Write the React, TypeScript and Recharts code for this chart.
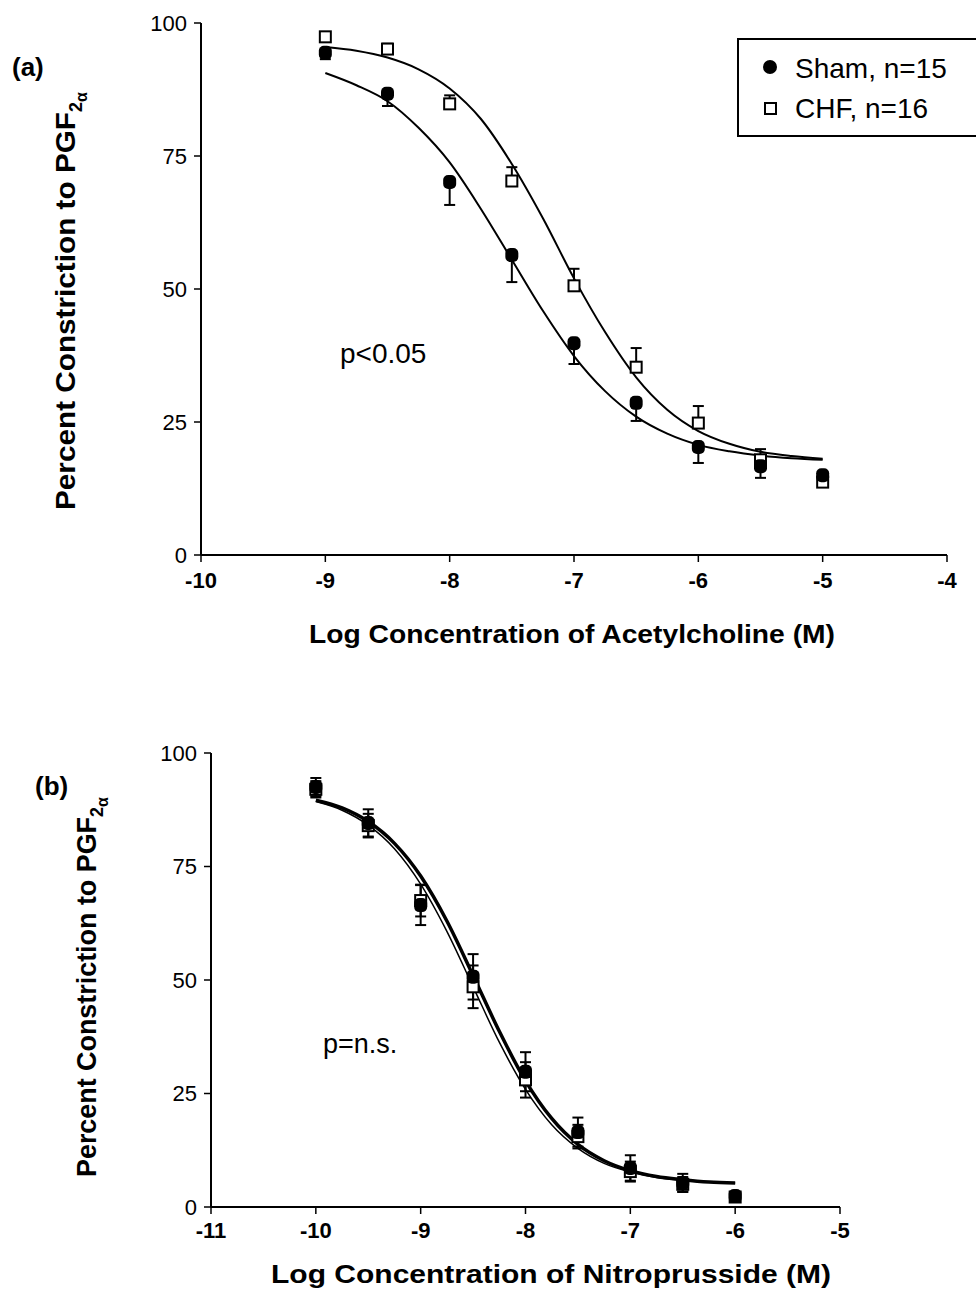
import { ComposedChart, Line, Scatter, XAxis, YAxis, ErrorBar, Legend } from 'recharts'

const FONT = '"Liberation Sans", Arial, Helvetica, sans-serif'

// (a) acetylcholine, mean +/- SEM (Sham bars drawn down, CHF bars drawn up)
const achLog = [-9, -8.5, -8, -7.5, -7, -6.5, -6, -5.5, -5]
const shamAch = [94.4, 86.7, 70.1, 56.4, 39.8, 28.6, 20.3, 16.7, 15.0]
const shamAchSem = [1.2, 2.3, 4.3, 5.1, 3.9, 3.4, 3.0, 2.2, 1.0]
const chfAch = [97.4, 95.1, 84.8, 70.3, 50.6, 35.3, 24.8, 17.9, 13.7]
const chfAchSem = [0.8, 1.0, 1.6, 2.6, 3.2, 3.6, 3.2, 2.0, 1.0]

// fitted curves
const achFitLog = [-9, -8.75, -8.5, -8.25, -8, -7.75, -7.5, -7.25, -7, -6.75, -6.5, -6.25, -6, -5.75, -5.5, -5.25, -5]
const shamAchFit = [90.6, 88.3, 85.3, 80.3, 73.8, 65.1, 55.5, 45.9, 37.4, 30.8, 26.0, 22.8, 20.7, 19.5, 18.7, 18.2, 17.9]
const chfAchFit = [95.5, 94.8, 93.5, 91.3, 87.7, 82.0, 73.5, 63.3, 52.0, 41.9, 33.4, 27.3, 23.3, 20.9, 19.4, 18.6, 18.1]

// (b) nitroprusside
const npLog = [-10, -9.5, -9, -8.5, -8, -7.5, -7, -6.5, -6]
const shamNp = [92.5, 84.6, 66.5, 50.7, 29.8, 16.5, 8.6, 5.3, 2.4]
const shamNpSem = [2.0, 3.0, 4.4, 5.0, 4.3, 3.2, 2.8, 2.0, 0.8]
const chfNp = [92.0, 84.0, 67.5, 48.5, 28.0, 15.5, 7.8, 5.0, 2.2]
const chfNpSem = [1.8, 2.6, 3.5, 4.7, 3.9, 2.6, 2.2, 1.6, 0.8]

const npFitLog = [-10, -9.75, -9.5, -9.25, -9, -8.75, -8.5, -8.25, -8, -7.75, -7.5, -7.25, -7, -6.75, -6.5, -6.25, -6]
const shamNpFit = [89.6, 87.9, 84.9, 80.1, 72.9, 63.0, 51.0, 38.7, 27.8, 19.5, 13.8, 10.2, 8.0, 6.7, 6.0, 5.5, 5.3]
const chfNpFit = [89.3, 87.4, 84.1, 78.9, 71.1, 60.7, 48.5, 36.3, 25.9, 18.1, 12.9, 9.6, 7.7, 6.5, 5.9, 5.5, 5.3]

const achTicks = [-10, -9, -8, -7, -6, -5, -4]
const npTicks = [-11, -10, -9, -8, -7, -6, -5]
const pctTicks = [0, 25, 50, 75, 100]

const pts = (xs: number[], ys: number[], errs?: [number, number][]) =>
  xs.map((x, i) => ({ x, y: ys[i], err: errs ? errs[i] : 0 }))

const down = (s: number[]) => s.map((v) => [v, 0] as [number, number])
const up = (s: number[]) => s.map((v) => [0, v] as [number, number])
const both = (s: number[]) => s.map((v) => [v, v] as [number, number])

const ShamMark = (p: any) => (
  <rect x={p.cx - 6.5} y={p.cy - 7} width={13} height={14} rx={5} fill="#000" />
)
const ChfMark = (p: any) => (
  <rect x={p.cx - 5.5} y={p.cy - 5.5} width={11} height={11} fill="#fff" stroke="#000" strokeWidth={2} />
)
const NoMark = () => <g />

const tickY = { fontSize: 22, fill: '#000', fontFamily: FONT }
const tickX = { fontSize: 22, fill: '#000', fontFamily: FONT, fontWeight: 700 }

function LegendBox() {
  return (
    <svg width={260} height={100} style={{ display: 'block' }}>
      <rect x={1} y={1} width={270} height={97} fill="#fff" stroke="#000" strokeWidth={2} />
      <circle cx={33} cy={29} r={7} fill="#000" />
      <text x={58} y={40} fontSize={28} fontFamily={FONT} fill="#000">Sham, n=15</text>
      <rect x={28} y={65} width={11} height={11} fill="#fff" stroke="#000" strokeWidth={2} />
      <text x={58} y={80} fontSize={28} fontFamily={FONT} fill="#000">CHF, n=16</text>
    </svg>
  )
}

type PanelProps = {
  top: number
  height: number
  margin: { top: number; right: number; bottom: number; left: number }
  domain: [number, number]
  ticks: number[]
  tickGap: number
  sham: any[]
  chf: any[]
  shamFit: any[]
  chfFit: any[]
  shamW: number
  chfW: number
  legend?: boolean
}

function Panel(p: PanelProps) {
  return (
    <div style={{ position: 'absolute', left: 0, top: p.top }}>
      <ComposedChart width={976} height={p.height} margin={p.margin}>
        <XAxis
          type="number"
          dataKey="x"
          domain={p.domain}
          ticks={p.ticks}
          allowDataOverflow
          height={30}
          tickSize={7}
          tickMargin={p.tickGap}
          axisLine={{ stroke: '#000', strokeWidth: 2 }}
          tickLine={{ stroke: '#000', strokeWidth: 1.5 }}
          tick={tickX}
        />
        <YAxis
          type="number"
          dataKey="y"
          domain={[0, 100]}
          ticks={pctTicks}
          allowDataOverflow
          width={60}
          tickSize={7}
          tickMargin={7}
          axisLine={{ stroke: '#000', strokeWidth: 2 }}
          tickLine={{ stroke: '#000', strokeWidth: 1.5 }}
          tick={tickY}
        />
        <Line data={p.chfFit} dataKey="y" type="monotone" stroke="#000" strokeWidth={p.chfW} dot={false} isAnimationActive={false} />
        <Line data={p.shamFit} dataKey="y" type="monotone" stroke="#000" strokeWidth={p.shamW} dot={false} isAnimationActive={false} />
        {/* error bars first, so the markers sit on top of the inner caps */}
        <Scatter data={p.chf} dataKey="y" shape={NoMark} isAnimationActive={false}>
          <ErrorBar dataKey="err" direction="y" width={5.5} stroke="#000" strokeWidth={2} />
        </Scatter>
        <Scatter data={p.sham} dataKey="y" shape={NoMark} isAnimationActive={false}>
          <ErrorBar dataKey="err" direction="y" width={5.5} stroke="#000" strokeWidth={2} />
        </Scatter>
        <Scatter data={p.chf} dataKey="y" shape={ChfMark} isAnimationActive={false} />
        <Scatter data={p.sham} dataKey="y" shape={ShamMark} isAnimationActive={false} />
        {p.legend && (
          <Legend
            layout="vertical"
            align="center"
            verticalAlign="middle"
            content={<LegendBox />}
            wrapperStyle={{ position: 'absolute', left: 737, top: 38, width: 260, right: 'auto', bottom: 'auto' }}
          />
        )}
      </ComposedChart>
    </div>
  )
}

function YTitle({ x, y, len }: { x: number; y: number; len: number }) {
  return (
    <text x={x} y={y} transform={`rotate(-90 ${x} ${y})`} fontSize={27} fontWeight={700} fontFamily={FONT} fill="#000">
      <tspan textLength={len} lengthAdjust="spacingAndGlyphs">Percent Constriction to PGF</tspan>
      <tspan dy={7} fontSize={18}>2</tspan>
      <tspan dy={5} fontSize={16}>α</tspan>
    </text>
  )
}

export default function App() {
  const txt = { fontFamily: FONT, fill: '#000' }
  return (
    <div style={{ position: 'absolute', left: 0, top: 0, width: 976, height: 1294, overflow: 'hidden', background: '#fff' }}>
      <Panel
        top={0}
        height={660}
        margin={{ top: 23, right: 29, bottom: 75, left: 141 }}
        domain={[-10, -4]}
        ticks={achTicks}
        tickGap={10}
        sham={pts(achLog, shamAch, down(shamAchSem))}
        chf={pts(achLog, chfAch, up(chfAchSem))}
        shamFit={pts(achFitLog, shamAchFit)}
        chfFit={pts(achFitLog, chfAchFit)}
        shamW={2}
        chfW={2}
        legend
      />
      <Panel
        top={700}
        height={594}
        margin={{ top: 53, right: 136, bottom: 57, left: 151 }}
        domain={[-11, -5]}
        ticks={npTicks}
        tickGap={8}
        sham={pts(npLog, shamNp, both(shamNpSem))}
        chf={pts(npLog, chfNp, both(chfNpSem))}
        shamFit={pts(npFitLog, shamNpFit)}
        chfFit={pts(npFitLog, chfNpFit)}
        shamW={3.5}
        chfW={1.5}
      />
      <svg width={976} height={1294} style={{ position: 'absolute', left: 0, top: 0, pointerEvents: 'none' }}>
        <text x={12} y={76} fontSize={26} fontWeight={700} {...txt}>(a)</text>
        <text x={35} y={795} fontSize={26} fontWeight={700} {...txt}>(b)</text>
        <YTitle x={75} y={510} len={398} />
        <YTitle x={96} y={1177} len={360} />
        <text x={572} y={643} textAnchor="middle" fontSize={26} fontWeight={700} textLength={526} lengthAdjust="spacingAndGlyphs" {...txt}>
          Log Concentration of Acetylcholine (M)
        </text>
        <text x={551} y={1283} textAnchor="middle" fontSize={26} fontWeight={700} textLength={560} lengthAdjust="spacingAndGlyphs" {...txt}>
          Log Concentration of Nitroprusside (M)
        </text>
        <text x={340} y={363} fontSize={28} {...txt}>p&lt;0.05</text>
        <text x={323} y={1053} fontSize={27} {...txt}>p=n.s.</text>
      </svg>
    </div>
  )
}
